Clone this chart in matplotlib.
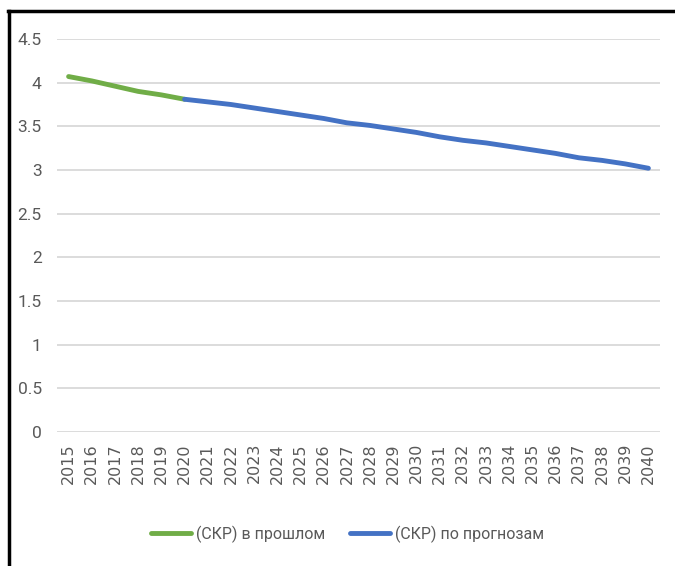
import numpy as np
import matplotlib
matplotlib.use("Agg")
import matplotlib.pyplot as plt
from matplotlib.lines import Line2D

years = [str(y) for y in range(2015, 2041)]
past_values = [4.07, 4.02, 3.96, 3.90, 3.86, 3.81]
forecast_values = [3.81, 3.78, 3.75, 3.71, 3.67, 3.63, 3.59, 3.54, 3.51, 3.47, 3.43,
                   3.38, 3.34, 3.31, 3.27, 3.23, 3.19, 3.14, 3.11, 3.07, 3.02]
series_names = ["(СКР) в прошлом", "(СКР) по прогнозам"]
y_ticks = [0, 0.5, 1, 1.5, 2, 2.5, 3, 3.5, 4, 4.5]
y_labels = ["0", "0.5", "1", "1.5", "2", "2.5", "3", "3.5", "4", "4.5"]

narrow = ["Roboto", "DejaVu Sans"]
gray = "#595959"

fig = plt.figure(figsize=(6.75, 5.66), dpi=100)
ax = fig.add_axes([57/675, 1-432/566, (660-57)/675, (432-39)/566])

x = np.arange(len(years))
past = np.full(len(years), np.nan)
past[:len(past_values)] = past_values
fc = np.full(len(years), np.nan)
fc[len(years)-len(forecast_values):] = forecast_values

ax.plot(x, past, color="#70AD47", lw=3.5, solid_capstyle="round", label=series_names[0], zorder=3)
ax.plot(x, fc, color="#4472C4", lw=3.5, solid_capstyle="round", label=series_names[1], zorder=3)

ax.set_xlim(-0.5, len(years)-0.5)
ax.set_ylim(0, 4.5)
ax.set_yticks(y_ticks)
ax.set_yticklabels(y_labels, family=narrow, fontsize=12.5, color=gray)
ax.set_xticks(x)
ax.set_xticklabels(years, rotation=90, family="DejaVu Sans", fontsize=11.5, color=gray)
ax.tick_params(axis="both", length=0)
ax.tick_params(axis="y", pad=11)
ax.tick_params(axis="x", pad=8)
ax.grid(axis="y", color="#D9D9D9", lw=1.3)
ax.set_axisbelow(True)
for s in ax.spines.values():
    s.set_visible(False)

fig.legend(loc="center", bbox_to_anchor=(0.515, 0.0565), ncol=2, frameon=False,
           prop={"family": narrow, "size": 11.5}, labelcolor=gray,
           handlelength=2.5, handletextpad=0.3, columnspacing=1.6)

# outer frame (top and left edges visible)
fig.add_artist(Line2D([8/675, 1], [1-11/566, 1-11/566], color="black", lw=2.5, transform=fig.transFigure))
fig.add_artist(Line2D([9/675, 9/675], [0, 1-11/566], color="black", lw=2.5, transform=fig.transFigure))

fig.savefig("out.png", dpi=100)
